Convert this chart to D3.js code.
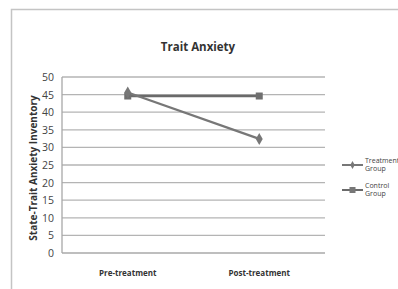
<!DOCTYPE html>
<html>
<head>
<meta charset="utf-8">
<script src="https://cdn.jsdelivr.net/npm/d3@7"></script>
<style>
  body { margin: 0; background: #fff; }
  svg { display: block; font-family: "Open Sans", "DejaVu Sans", sans-serif; }
</style>
</head>
<body>
<svg id="chart"></svg>
<script>
// chart data
const categories = ["Pre-treatment", "Post-treatment"];
const treatmentValues = [45.6, 32.4];
const controlValues = [44.6, 44.6];
const seriesNames = [["Treatment", "Group"], ["Control", "Group"]];
const yTicks = [0, 5, 10, 15, 20, 25, 30, 35, 40, 45, 50];

const width = 398, height = 289;
const plot = {left: 62, right: 325, top: 77, bottom: 253};

const svg = d3.select("#chart")
    .attr("width", width)
    .attr("height", height);

// outer frame
svg.append("rect")
    .attr("x", 11.5).attr("y", 9.5)
    .attr("width", 390).attr("height", 290)
    .attr("fill", "none")
    .attr("stroke", "#c4c4c4")
    .attr("stroke-width", 1.5);

// title
svg.append("text")
    .attr("x", 198).attr("y", 51)
    .attr("text-anchor", "middle")
    .attr("font-size", 11.5)
    .attr("font-weight", "bold")
    .attr("fill", "#333")
    .text("Trait Anxiety");

const x = d3.scaleBand()
    .domain(categories)
    .range([plot.left, plot.right]);

const y = d3.scaleLinear()
    .domain([0, 50])
    .range([plot.bottom, plot.top]);

// gridlines
svg.append("g")
    .selectAll("line")
    .data(yTicks)
    .enter()
    .append("line")
    .attr("x1", plot.left).attr("x2", plot.right)
    .attr("y1", d => y(d)).attr("y2", d => y(d))
    .attr("stroke", d => d === 0 ? "#a8a8a8" : "#b4b4b4")
    .attr("stroke-width", 1.3);

// left axis line
svg.append("line")
    .attr("x1", plot.left).attr("x2", plot.left)
    .attr("y1", plot.top).attr("y2", plot.bottom)
    .attr("stroke", "#a8a8a8")
    .attr("stroke-width", 1.3);

// y tick labels
svg.append("g")
    .selectAll("text")
    .data(yTicks)
    .enter()
    .append("text")
    .attr("x", 54)
    .attr("y", d => y(d) + 4)
    .attr("text-anchor", "end")
    .attr("font-size", 10.5)
    .attr("fill", "#444")
    .text(d => d);

// y axis title
svg.append("text")
    .attr("transform", `translate(37, ${(plot.top + plot.bottom) / 2 + 3}) rotate(-90)`)
    .attr("text-anchor", "middle")
    .attr("font-size", 10)
    .attr("font-weight", "bold")
    .attr("fill", "#333")
    .text("State-Trait Anxiety Inventory");

// x labels
svg.append("g")
    .selectAll("text")
    .data(categories)
    .enter()
    .append("text")
    .attr("x", d => x(d) + x.bandwidth() / 2)
    .attr("y", 276)
    .attr("text-anchor", "middle")
    .attr("font-size", 8)
    .attr("font-weight", "bold")
    .attr("fill", "#333")
    .text(d => d);

const line = d3.line()
    .x((d, i) => x(categories[i]) + x.bandwidth() / 2)
    .y(d => y(d));

// control line (square markers)
svg.append("path")
    .datum(controlValues)
    .attr("d", line)
    .attr("fill", "none")
    .attr("stroke", "#6a6a6a")
    .attr("stroke-width", 2.6);

// treatment line (diamond markers)
svg.append("path")
    .datum(treatmentValues)
    .attr("d", line)
    .attr("fill", "none")
    .attr("stroke", "#777")
    .attr("stroke-width", 2.3);

svg.append("g")
    .selectAll("rect")
    .data(controlValues)
    .enter()
    .append("rect")
    .attr("x", (d, i) => x(categories[i]) + x.bandwidth() / 2 - 3.5)
    .attr("y", d => y(d) - 3.5)
    .attr("width", 7).attr("height", 7)
    .attr("fill", "#6f6f6f");

const diamond = d3.symbol().type(d3.symbolDiamond).size(42);
svg.append("g")
    .selectAll("path")
    .data(treatmentValues)
    .enter()
    .append("path")
    .attr("d", diamond)
    .attr("transform", (d, i) => `translate(${x(categories[i]) + x.bandwidth() / 2}, ${y(d)})`)
    .attr("fill", "#777");

// legend
const legendY = [165, 190];
const legend = svg.append("g");
legendY.forEach((ly, i) => {
    legend.append("line")
        .attr("x1", 342).attr("x2", 363)
        .attr("y1", ly).attr("y2", ly)
        .attr("stroke", i === 0 ? "#777" : "#6a6a6a")
        .attr("stroke-width", 2);
    if (i === 0) {
        legend.append("path")
            .attr("d", d3.symbol().type(d3.symbolDiamond).size(18))
            .attr("transform", `translate(352.5, ${ly})`)
            .attr("fill", "#777");
    } else {
        legend.append("rect")
            .attr("x", 349.5).attr("y", ly - 3)
            .attr("width", 6).attr("height", 6)
            .attr("fill", "#777");
    }
    legend.append("text")
        .attr("x", 365).attr("y", ly - 2)
        .attr("font-size", 7)
        .attr("fill", "#444")
        .selectAll("tspan")
        .data(seriesNames[i])
        .enter()
        .append("tspan")
        .attr("x", 365)
        .attr("dy", (d, j) => j === 0 ? 0 : 8)
        .text(d => d);
});
</script>
</body>
</html>
